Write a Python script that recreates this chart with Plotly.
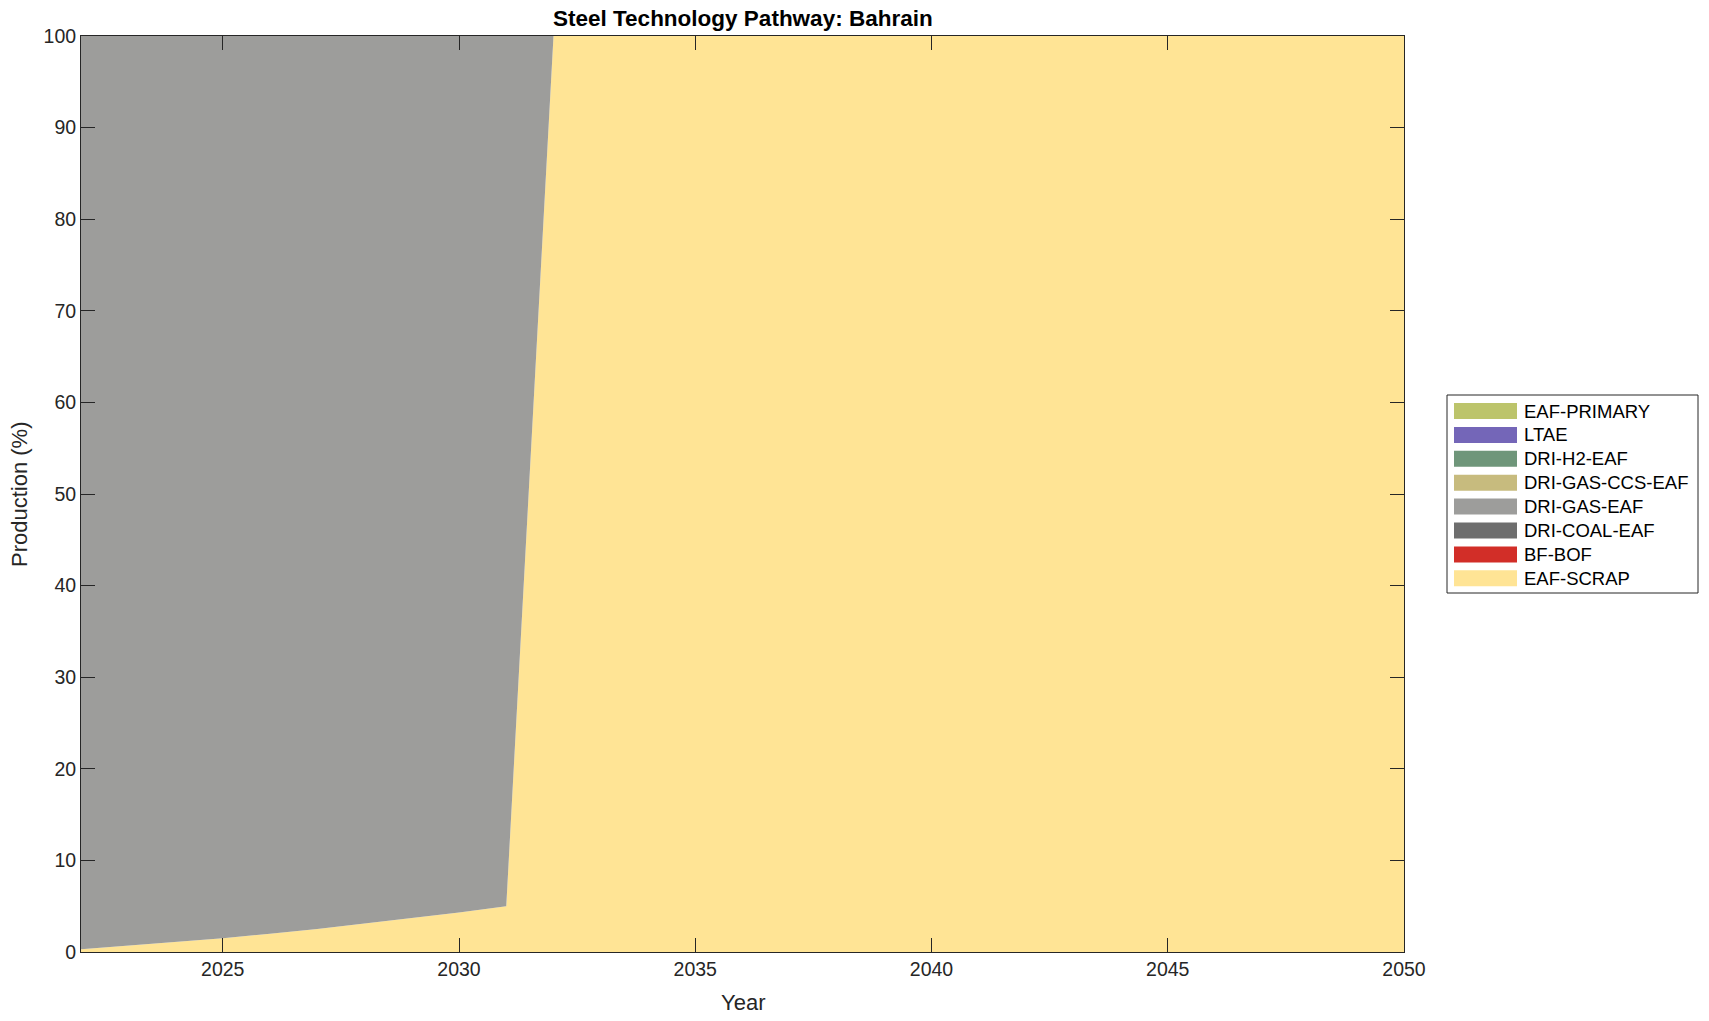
import plotly.graph_objects as go

years = list(range(2022, 2051))

# Shares of production (%) by technology
eaf_scrap = [0.3, 0.7, 1.1, 1.5, 2.0, 2.5, 3.1, 3.7, 4.3, 5.0] + [100.0] * 19
dri_gas_eaf = [100 - v for v in eaf_scrap[:10]] + [0.0] * 19
bf_bof = [0.0] * 29
dri_coal_eaf = [0.0] * 29
dri_gas_ccs_eaf = [0.0] * 29
dri_h2_eaf = [0.0] * 29
ltae = [0.0] * 29
eaf_primary = [0.0] * 29

# bottom -> top stacking order
series = [
    ("EAF-SCRAP", eaf_scrap, "#FFE495"),
    ("BF-BOF", bf_bof, "#D22E28"),
    ("DRI-COAL-EAF", dri_coal_eaf, "#6E6E6E"),
    ("DRI-GAS-EAF", dri_gas_eaf, "#9D9D9B"),
    ("DRI-GAS-CCS-EAF", dri_gas_ccs_eaf, "#C7BB7E"),
    ("DRI-H2-EAF", dri_h2_eaf, "#6F967A"),
    ("LTAE", ltae, "#7466B8"),
    ("EAF-PRIMARY", eaf_primary, "#BCC46B"),
]

x_ticks = [2025, 2030, 2035, 2040, 2045, 2050]
y_ticks = list(range(0, 101, 10))

OFF = 8  # page body margin
W, H = 1709 - OFF, 1021 - OFF
L, R, T, B = 81 - OFF, 1404 - OFF, 36 - OFF, 952 - OFF
FONT = "Liberation Sans, Arial, Helvetica, sans-serif"
TXT = "#262626"

fig = go.Figure()
for name, vals, col in series:
    fig.add_trace(go.Scatter(
        x=years, y=vals, name=name, mode="lines", stackgroup="one",
        line=dict(width=0, color=col), fillcolor=col, hoverinfo="skip",
        showlegend=False,
    ))

def px2paper_x(px):
    return (px - OFF - L) / (R - L)

def px2paper_y(py):
    return (B - (py - OFF)) / (B - T)

shapes = []
annotations = []

# Legend box
shapes.append(dict(type="rect", xref="paper", yref="paper",
                   x0=px2paper_x(1447), x1=px2paper_x(1698),
                   y0=px2paper_y(593), y1=px2paper_y(395),
                   line=dict(color=TXT, width=1), fillcolor="white", layer="above"))
legend_order = list(reversed(series))
row0, step = 411, 23.9
for i, (name, vals, col) in enumerate(legend_order):
    cy = row0 + i * step
    shapes.append(dict(type="rect", xref="paper", yref="paper",
                       x0=px2paper_x(1454), x1=px2paper_x(1517),
                       y0=px2paper_y(cy + 8), y1=px2paper_y(cy - 8),
                       line=dict(width=0), fillcolor=col, layer="above"))
    annotations.append(dict(xref="paper", yref="paper", x=px2paper_x(1522), y=px2paper_y(cy),
                            xanchor="left", yanchor="middle", text=name, showarrow=False,
                            font=dict(family=FONT, size=18.5, color="black")))

# Title and axis titles
annotations.append(dict(xref="paper", yref="paper", x=0.5, y=1, yanchor="middle", yshift=18,
                        text="<b>Steel Technology Pathway: Bahrain</b>", showarrow=False,
                        font=dict(family=FONT, size=22.5, color="black")))
annotations.append(dict(xref="paper", yref="paper", x=0.5, y=0, yanchor="middle", yshift=-50,
                        text="Year", showarrow=False,
                        font=dict(family=FONT, size=22, color=TXT)))
annotations.append(dict(xref="paper", yref="paper", x=0, y=0.5, xanchor="center", xshift=-62,
                        textangle=-90, text="Production (%)", showarrow=False,
                        font=dict(family=FONT, size=22, color=TXT)))

axis_common = dict(showgrid=False, zeroline=False, showline=True, linecolor=TXT, linewidth=1,
                   mirror="ticks", ticks="inside", ticklen=14, tickcolor=TXT, tickwidth=1,
                   tickfont=dict(family=FONT, size=19.5, color=TXT))

fig.update_layout(
    width=W, height=H,
    margin=dict(l=L, r=W - R, t=T, b=H - B, pad=0),
    paper_bgcolor="white", plot_bgcolor="white",
    xaxis=dict(range=[2022, 2050], tickvals=x_ticks, ticktext=[str(v) for v in x_ticks],
               **axis_common),
    yaxis=dict(range=[0, 100], tickvals=y_ticks, ticktext=[str(v) for v in y_ticks],
               **axis_common),
    shapes=shapes, annotations=annotations, showlegend=False,
    hovermode=False,
)

fig.write_html("out.html", config={"displayModeBar": False})
